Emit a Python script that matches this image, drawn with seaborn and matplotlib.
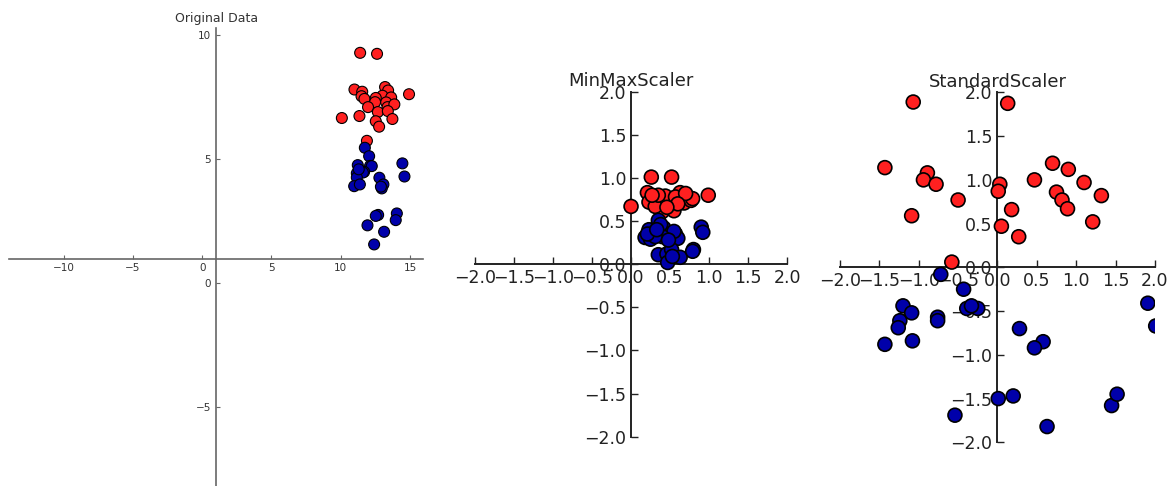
import pandas as pd
import matplotlib
matplotlib.use("Agg")
import matplotlib.pyplot as plt
import seaborn as sns

# Original data
orig_red_x = [11.40, 12.62, 10.99, 11.55, 11.50, 11.71, 13.20, 13.42, 13.01, 12.53,
              12.48, 13.64, 13.28, 13.38, 13.87, 14.93, 11.97, 12.68, 13.40, 10.08,
              11.35, 13.73, 12.53, 12.77, 11.89]
orig_red_y = [9.30, 9.26, 7.82, 7.73, 7.55, 7.44, 7.92, 7.78, 7.57, 7.48,
              7.31, 7.50, 7.30, 7.11, 7.22, 7.63, 7.11, 6.91, 6.95, 6.67,
              6.75, 6.63, 6.54, 6.32, 5.75]
orig_blue_x = [11.74, 12.05, 11.23, 12.12, 12.24, 11.16, 11.69, 11.60, 11.16, 10.97,
               11.38, 12.79, 13.08, 12.96, 14.45, 14.60, 12.70, 12.53, 14.05, 13.97,
               11.93, 13.13, 12.41, 11.30, 12.90]
orig_blue_y = [5.47, 5.13, 4.77, 4.74, 4.73, 4.44, 4.50, 4.47, 4.27, 3.92,
               3.99, 4.26, 3.99, 3.83, 4.84, 4.31, 2.76, 2.72, 2.82, 2.55,
               2.34, 2.08, 1.57, 4.60, 3.90]

# MinMaxScaler panel
mm_red_x = [0.26, 0.52, 0.00, 0.99, 0.21, 0.33, 0.38, 0.48, 0.50, 0.63,
            0.68, 0.73, 0.77, 0.55, 0.40, 0.23, 0.44, 0.57, 0.79, 0.31,
            0.70, 0.35, 0.60, 0.27, 0.46]
mm_red_y = [1.01, 1.01, 0.67, 0.80, 0.83, 0.78, 0.72, 0.75, 0.71, 0.83,
            0.71, 0.78, 0.74, 0.62, 0.61, 0.72, 0.79, 0.78, 0.76, 0.67,
            0.82, 0.80, 0.70, 0.80, 0.66]
mm_blue_x = [0.35, 0.42, 0.23, 0.18, 0.25, 0.29, 0.57, 0.60, 0.55, 0.90,
             0.92, 0.35, 0.46, 0.52, 0.47, 0.63, 0.80, 0.79, 0.53, 0.40,
             0.31, 0.48, 0.21, 0.38, 0.33]
mm_blue_y = [0.51, 0.42, 0.40, 0.31, 0.29, 0.36, 0.35, 0.30, 0.38, 0.43,
             0.37, 0.11, 0.12, 0.17, 0.02, 0.08, 0.17, 0.15, 0.09, 0.32,
             0.32, 0.28, 0.35, 0.46, 0.40]

# StandardScaler panel
st_red_x = [-1.07, 0.13, -1.43, -0.89, -0.94, -0.78, -1.09, -0.50, 0.03, 0.01,
            0.05, 0.18, 0.27, 0.47, 0.70, 0.90, 1.10, 1.32, 0.75, 0.82,
            0.89, 1.21, -0.58]
st_red_y = [1.89, 1.875, 1.14, 1.08, 1.00, 0.95, 0.59, 0.77, 0.95, 0.87,
            0.47, 0.66, 0.35, 1.00, 1.19, 1.12, 0.97, 0.82, 0.86, 0.77,
            0.67, 0.52, 0.06]
st_blue_x = [-0.72, -0.43, -1.20, -1.24, -1.26, -1.09, -1.08, -1.43, -0.76, -0.76,
             -0.39, -0.25, -0.33, 0.28, 0.58, 0.47, 1.91, 2.01, 0.01, 0.20,
             -0.54, 0.63, 1.45, 1.52]
st_blue_y = [-0.08, -0.25, -0.44, -0.61, -0.69, -0.52, -0.84, -0.88, -0.57, -0.61,
             -0.47, -0.47, -0.44, -0.70, -0.85, -0.92, -0.41, -0.67, -1.50, -1.47,
             -1.69, -1.82, -1.58, -1.45]

palette = {"red": "#ff2020", "blue": "#0000aa"}


def make_frame(rx, ry, bx, by):
    red = pd.DataFrame({"x": rx, "y": ry, "cls": "red"})
    blue = pd.DataFrame({"x": bx, "y": by, "cls": "blue"})
    return pd.concat([red, blue], ignore_index=True)


def center_spines(ax, color, lw):
    ax.spines["left"].set_position("center")
    ax.spines["bottom"].set_position("center")
    ax.spines["right"].set_visible(False)
    ax.spines["top"].set_visible(False)
    for s in ["left", "bottom"]:
        ax.spines[s].set_color(color)
        ax.spines[s].set_linewidth(lw)
    ax.xaxis.set_ticks_position("bottom")
    ax.yaxis.set_ticks_position("left")
    ax.set_xlabel("")
    ax.set_ylabel("")


sns.set_style("white")
fig = plt.figure(figsize=(11.75, 4.86), dpi=100)

# panel 1: original data
ax1 = fig.add_axes([0.0079, -0.0063, 0.352, 0.9486])
df1 = make_frame(orig_red_x, orig_red_y, orig_blue_x, orig_blue_y)
sns.scatterplot(data=df1, x="x", y="y", hue="cls", palette=palette, s=62,
                edgecolor="black", linewidth=0.8, legend=False, ax=ax1, zorder=3)
maxx = max(abs(v) for v in orig_red_x + orig_blue_x)
maxy = max(abs(v) for v in orig_red_y + orig_blue_y)
ax1.set_xlim(-maxx + 1, maxx + 1)
ax1.set_ylim(-maxy + 1, maxy + 1)
center_spines(ax1, "#666666", 1.2)
ax1.set_xticks([-10, -5, 0, 5, 10, 15])
ax1.set_yticks([-5, 0, 5, 10])
ax1.tick_params(direction="in", length=3, width=0.8, colors="#666666",
                labelcolor="#333333", labelsize=7.5)
ax1.set_title("Original Data", fontsize=9, color="#333333", pad=4)

# panel 2 and 3: scaled data
ticks = [-2.0, -1.5, -1.0, -0.5, 0.0, 0.5, 1.0, 1.5, 2.0]
tick_text = [f"{t:.1f}".replace("-", "\u2212") for t in ticks]
panels = [
    ([0.4043, 0.1014, 0.2655, 0.7099], make_frame(mm_red_x, mm_red_y, mm_blue_x, mm_blue_y), "MinMaxScaler"),
    ([0.7149, 0.0899, 0.2680, 0.7200], make_frame(st_red_x, st_red_y, st_blue_x, st_blue_y), "StandardScaler"),
]
for rect, df, name in panels:
    ax = fig.add_axes(rect)
    sns.scatterplot(data=df, x="x", y="y", hue="cls", palette=palette, s=100,
                    edgecolor="black", linewidth=1.2, legend=False, ax=ax, zorder=3)
    ax.set_xlim(-2, 2)
    ax.set_ylim(-2, 2)
    center_spines(ax, "#222222", 1.4)
    ax.set_xticks(ticks)
    ax.set_xticklabels(tick_text)
    ax.set_yticks(ticks)
    ax.set_yticklabels(tick_text)
    ax.tick_params(direction="in", length=5, width=1.0, colors="#222222",
                   labelcolor="#222222", labelsize=12.5)
    ax.set_title(name, fontsize=13, color="#222222", pad=4)

fig.savefig("out.png", dpi=100)
